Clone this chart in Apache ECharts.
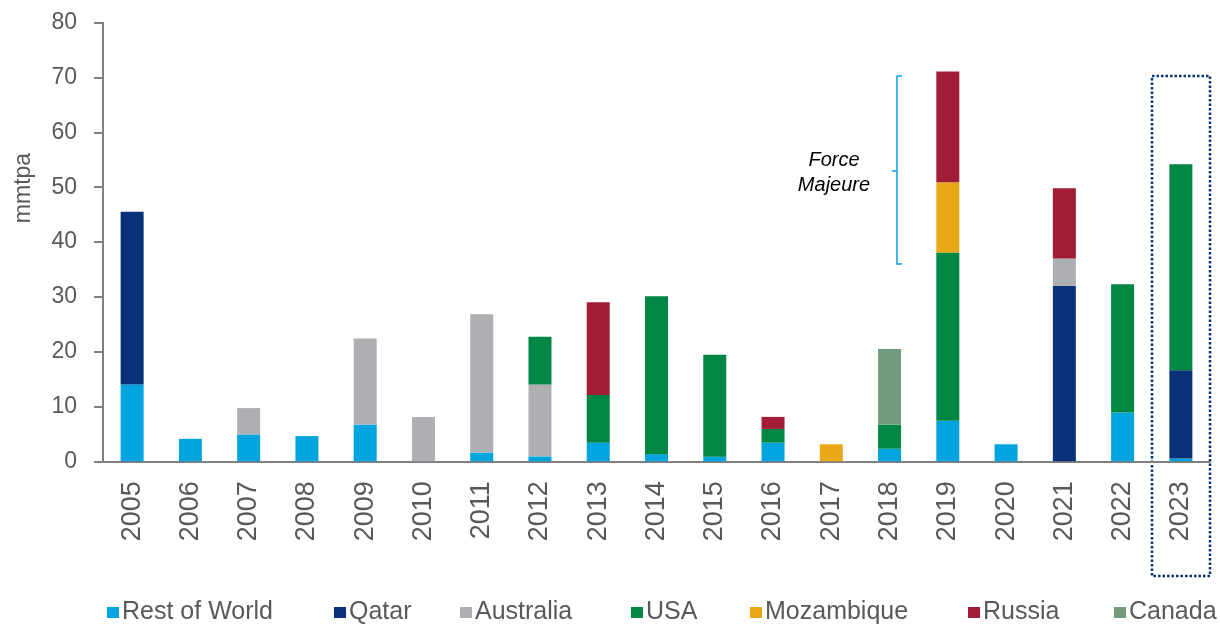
<!DOCTYPE html>
<html>
<head>
<meta charset="utf-8">
<script src="https://cdn.jsdelivr.net/npm/echarts@6/dist/echarts.min.js"></script>
<style>
html,body{margin:0;padding:0;background:#fff;}
#container{width:1220px;height:626px;}
</style>
</head>
<body>
<div id="container"></div>
<script>
var years = ['2005','2006','2007','2008','2009','2010','2011','2012','2013','2014','2015','2016','2017','2018','2019','2020','2021','2022','2023'];
var yTicks = [0, 80, 10]; // min, max, interval

// mmtpa per country, stacked bottom to top
var restOfWorld = [14.0, 4.1, 4.9, 4.6, 6.7, 0, 1.6, 0.9, 3.4, 1.3, 0.85, 3.4, 0, 2.3, 7.4, 3.1, 0, 8.9, 0.5];
var qatar       = [31.5, 0, 0, 0, 0, 0, 0, 0, 0, 0, 0, 0, 0, 0, 0, 0, 32.0, 0, 16.1];
var australia   = [0, 0, 4.8, 0, 15.7, 8.1, 25.2, 13.1, 0, 0, 0, 0, 0, 0, 0, 0, 5.0, 0, 0];
var usa         = [0, 0, 0, 0, 0, 0, 0, 8.7, 8.7, 28.8, 18.6, 2.5, 0, 4.4, 30.7, 0, 0, 23.4, 37.6];
var mozambique  = [0, 0, 0, 0, 0, 0, 0, 0, 0, 0, 0, 0, 3.1, 0, 12.8, 0, 0, 0, 0];
var russia      = [0, 0, 0, 0, 0, 0, 0, 0, 16.9, 0, 0, 2.2, 0, 0, 20.2, 0, 12.8, 0, 0];
var canada      = [0, 0, 0, 0, 0, 0, 0, 0, 0, 0, 0, 0, 0, 13.8, 0, 0, 0, 0, 0];

var names  = ['Rest of World', 'Qatar', 'Australia', 'USA', 'Mozambique', 'Russia', 'Canada'];
var values = [restOfWorld, qatar, australia, usa, mozambique, russia, canada];
var colors = ['#00a5e0', '#07327a', '#adafb2', '#008744', '#e8a818', '#a31c37', '#739a7d'];
var legendLeft = [102, 329, 455, 626, 745, 963, 1109];

var font = '"Liberation Sans", Arial, sans-serif';
var textColor = '#595959';

var series = [];
var legends = [];
for (var i = 0; i < names.length; i++) {
	series.push({
		name: names[i],
		type: 'bar',
		stack: 'total',
		barWidth: 23,
		itemStyle: {color: colors[i]},
		data: values[i]
	});
	legends.push({
		data: [names[i]],
		left: legendLeft[i],
		top: 595,
		itemWidth: 12,
		itemHeight: 11,
		itemGap: 0,
		icon: 'rect',
		textStyle: {fontFamily: font, fontSize: 25, color: textColor, padding: [0, 0, 0, -2]}
	});
}

var chart = echarts.init(document.getElementById('container'));
chart.setOption({
	animation: false,
	color: colors,
	grid: {left: 103, right: 10, top: 22.7, bottom: 164.7, containLabel: false, outerBoundsMode: 'none'},
	legend: legends,
	xAxis: {
		type: 'category',
		data: years,
		axisLine: {lineStyle: {color: '#7f7f7f', width: 2}},
		axisTick: {length: 11, lineStyle: {color: '#7f7f7f', width: 2}},
		axisLabel: {
			rotate: 90,
			margin: 20,
			interval: 0,
			fontFamily: font,
			fontSize: 27,
			color: textColor
		}
	},
	yAxis: {
		type: 'value',
		min: yTicks[0],
		max: yTicks[1],
		interval: yTicks[2],
		name: 'mmtpa',
		nameLocation: 'middle',
		nameGap: 68,
		nameRotate: 90,
		nameTextStyle: {fontFamily: font, fontSize: 23, color: textColor, padding: [0, 0, 0, 108]},
		axisLine: {show: true, lineStyle: {color: '#7f7f7f', width: 2}},
		axisTick: {show: true, length: 9, lineStyle: {color: '#7f7f7f', width: 2}},
		axisLabel: {margin: 26, fontFamily: font, fontSize: 23, color: textColor},
		splitLine: {show: false}
	},
	graphic: [
		{
			type: 'text',
			style: {
				x: 834,
				y: 148,
				text: 'Force\nMajeure',
				fontFamily: font,
				fontStyle: 'italic',
				fontSize: 20,
				lineHeight: 25,
				align: 'center',
				fill: '#000'
			}
		},
		{
			type: 'polyline',
			shape: {points: [[902, 76], [897, 76], [897, 264], [902, 264]]},
			style: {stroke: '#00a5e0', lineWidth: 1.5, fill: null}
		},
		{
			type: 'line',
			shape: {x1: 892, y1: 171, x2: 897, y2: 171},
			style: {stroke: '#00a5e0', lineWidth: 1.5}
		},
		{
			type: 'rect',
			shape: {x: 1152, y: 76, width: 58, height: 500},
			style: {stroke: '#0a3470', lineWidth: 2.5, lineDash: [2.5, 2], fill: null}
		}
	],
	series: series
});
</script>
</body>
</html>
